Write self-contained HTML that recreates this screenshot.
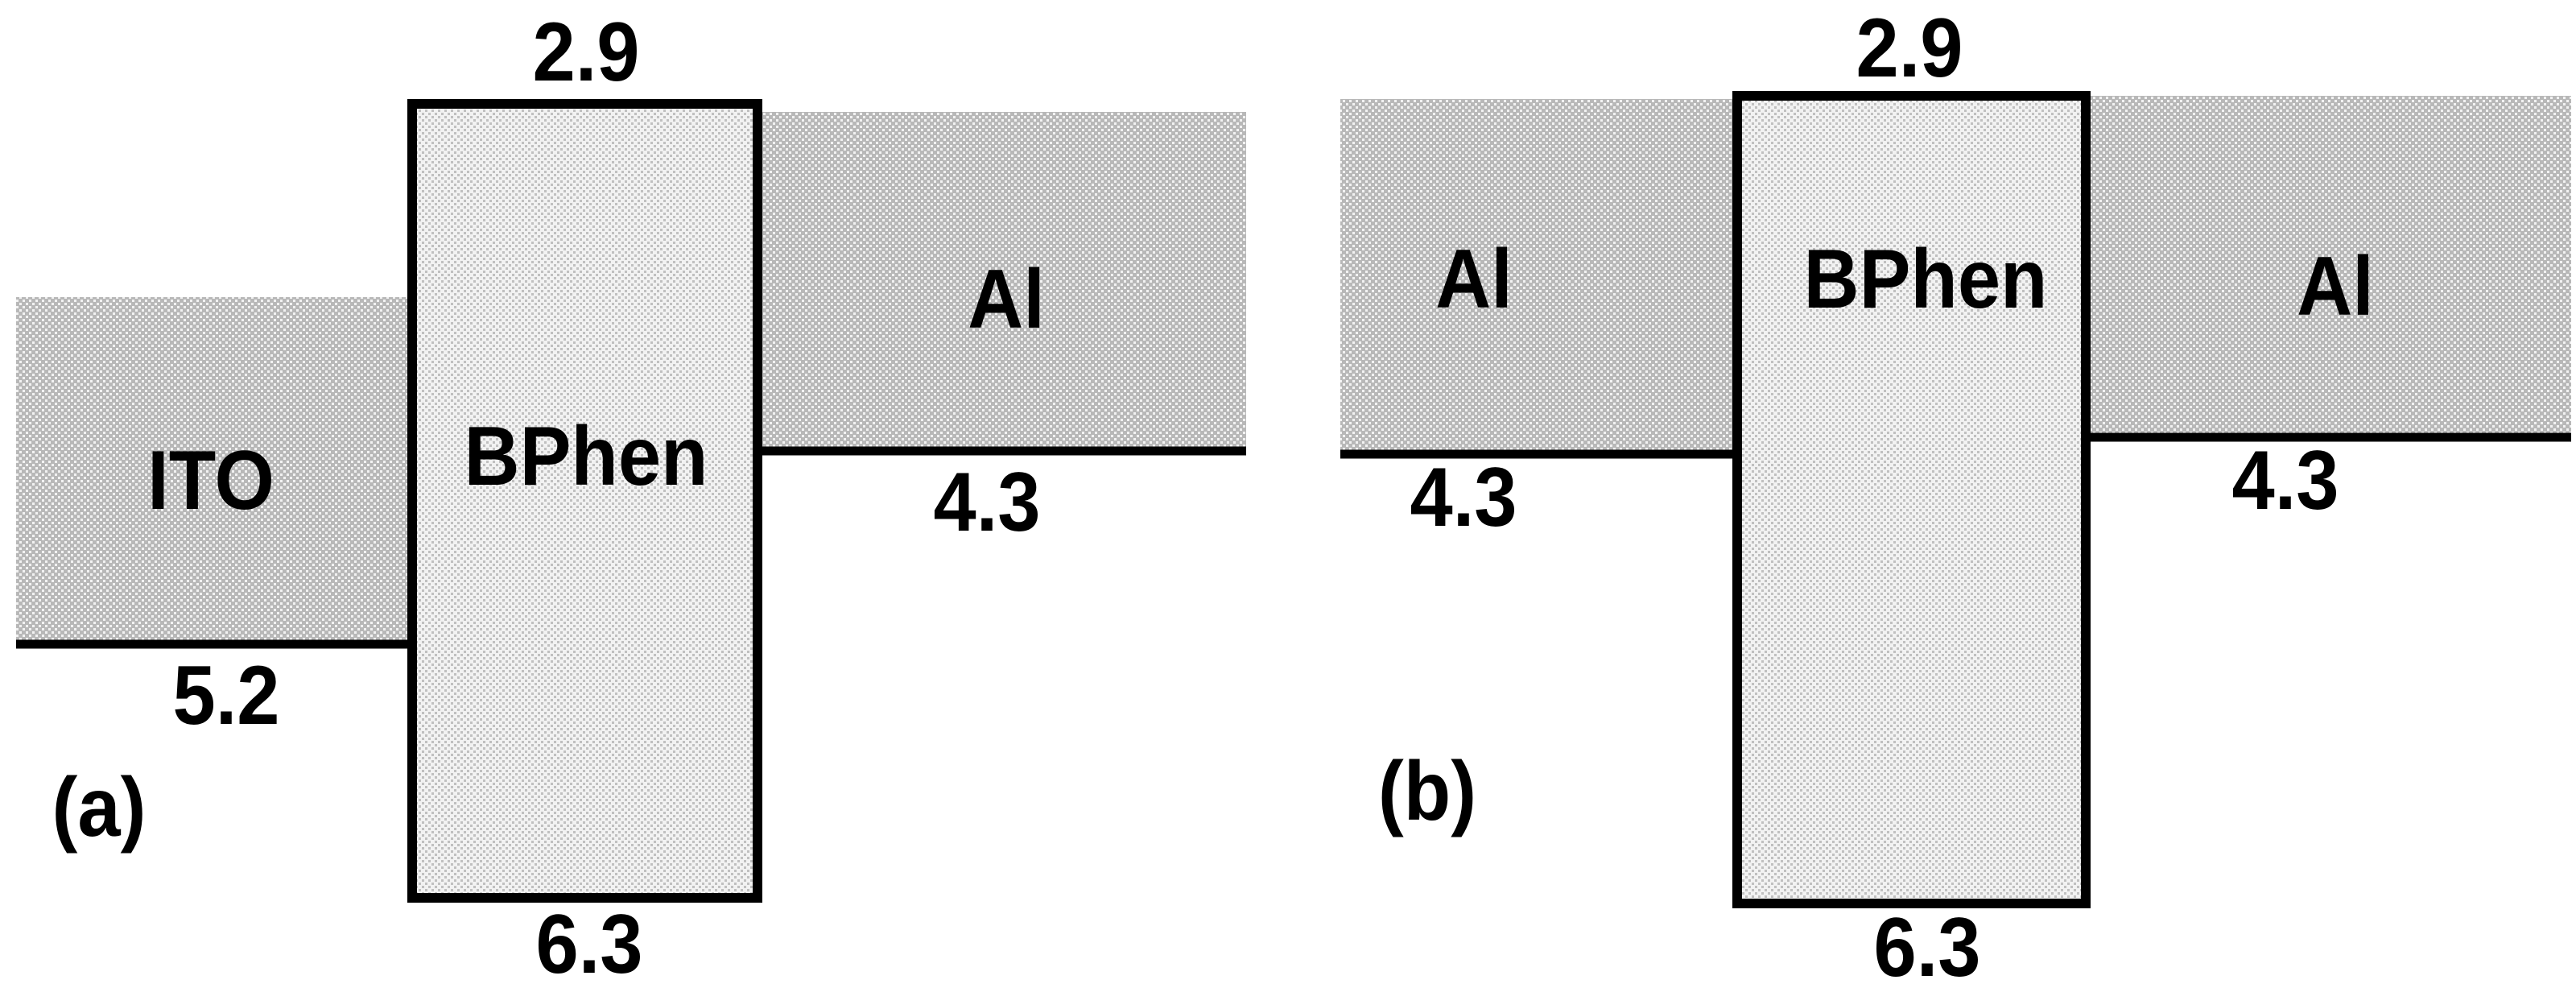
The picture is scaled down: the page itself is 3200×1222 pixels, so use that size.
<!DOCTYPE html>
<html><head><meta charset="utf-8"><style>
html,body{margin:0;padding:0;background:#fff;}
svg{display:block;}
text{font-family:"Liberation Sans",sans-serif;font-weight:bold;fill:#000;text-anchor:middle;}
</style></head><body>
<svg width="3200" height="1222" viewBox="0 0 3200 1222" xmlns="http://www.w3.org/2000/svg">
<defs>
<pattern id="dk" width="8" height="8" patternUnits="userSpaceOnUse">
<rect width="8" height="8" fill="#b8b8b8"/>
<rect x="0" y="0" width="3" height="3" fill="#f2f2f2"/>
<rect x="4" y="4" width="3" height="3" fill="#f2f2f2"/>
</pattern>
<pattern id="lt" width="8" height="8" patternUnits="userSpaceOnUse">
<rect width="8" height="8" fill="#f2f2f2"/>
<rect x="0" y="0" width="3" height="3" fill="#c0c0c0"/>
<rect x="4" y="4" width="3" height="3" fill="#c0c0c0"/>
</pattern>
</defs>
<!-- (a) -->
<rect x="20" y="369" width="486" height="431" fill="url(#dk)"/>
<rect x="947" y="139" width="601" height="421" fill="url(#dk)"/>
<line x1="20" y1="800" x2="506" y2="800" stroke="#000" stroke-width="11"/>
<line x1="947" y1="560" x2="1548" y2="560" stroke="#000" stroke-width="11"/>
<rect x="512" y="129" width="429" height="986" fill="url(#lt)" stroke="#000" stroke-width="12"/>
<!-- (b) -->
<rect x="1665" y="123" width="487" height="441" fill="url(#dk)"/>
<rect x="2597" y="119" width="597" height="424" fill="url(#dk)"/>
<line x1="1665" y1="564" x2="2152" y2="564" stroke="#000" stroke-width="11"/>
<line x1="2597" y1="543" x2="3194" y2="543" stroke="#000" stroke-width="11"/>
<rect x="2158" y="119" width="433" height="1003" fill="url(#lt)" stroke="#000" stroke-width="12"/>
<g font-size="104">
<text transform="translate(728 100) scale(0.92 1)">2.9</text>
<text transform="translate(262 632) scale(0.92 1)">ITO</text>
<text transform="translate(728 602) scale(0.92 1)">BPhen</text>
<text transform="translate(1250 407) scale(0.92 1)">Al</text>
<text transform="translate(1226 659) scale(0.92 1)">4.3</text>
<text transform="translate(281 899) scale(0.92 1)">5.2</text>
<text transform="translate(123 1038) scale(0.92 1)">(a)</text>
<text transform="translate(732 1208) scale(0.92 1)">6.3</text>

<text transform="translate(2372 95) scale(0.92 1)">2.9</text>
<text transform="translate(1831 382) scale(0.92 1)">Al</text>
<text transform="translate(2392 382) scale(0.92 1)">BPhen</text>
<text transform="translate(2901 391) scale(0.92 1)">Al</text>
<text transform="translate(1818 653) scale(0.92 1)">4.3</text>
<text transform="translate(2839 632) scale(0.92 1)">4.3</text>
<text transform="translate(1773 1018) scale(0.92 1)">(b)</text>
<text transform="translate(2394 1212) scale(0.92 1)">6.3</text>
</g>
</svg>
</body></html>
